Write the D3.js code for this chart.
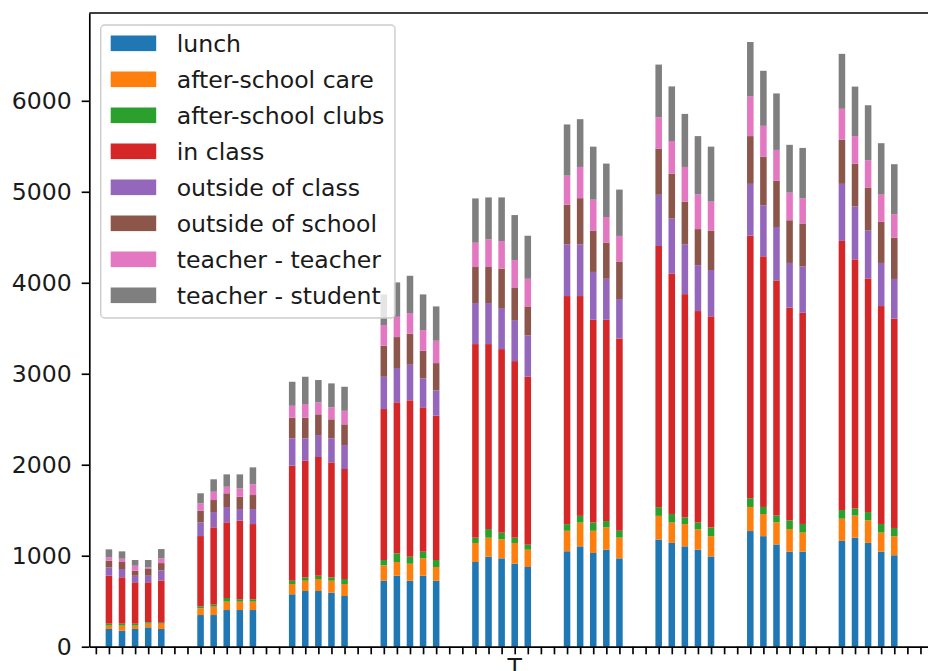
<!DOCTYPE html>
<html>
<head>
<meta charset="utf-8">
<script src="https://cdn.jsdelivr.net/npm/d3@7"></script>
<style>
  html, body { margin: 0; padding: 0; overflow: hidden; background: #fff; }
  svg { display: block; font-family: "DejaVu Sans", sans-serif; }
</style>
</head>
<body>
<svg id="chart" width="928" height="671"></svg>
<script>
// ---- data ----
const seriesNames = ["lunch", "after-school care", "after-school clubs", "in class",
  "outside of class", "outside of school", "teacher - teacher", "teacher - student"];

const lunch = [195,176,195,213,195, 348,348,403,403,403, 576,612,612,594,557,
  725,780,725,780,725, 931,989,971,912,876, 1049,1103,1030,1066,971,
  1178,1141,1103,1066,992, 1271,1215,1124,1045,1045, 1163,1198,1141,1045,1005];
const afterSchoolCare = [36,55,36,40,58, 74,92,92,92,92, 113,113,132,131,132,
  169,151,187,191,151, 209,209,209,228,190, 225,261,244,245,228,
  260,223,244,224,223, 265,243,243,248,209, 244,243,248,209,209];
const afterSchoolClubs = [22,22,22,15,10, 22,22,40,26,26, 36,37,36,37,55,
  59,95,77,73,77, 58,95,73,58,55, 73,74,90,70,75,
  96,95,75,74,96, 96,78,74,96,95, 95,79,91,95,91];
const inClass = [527,510,455,440,465, 772,850,832,864,827, 1264,1282,1305,1264,1209,
  1659,1660,1719,1587,1586, 2128,2033,2018,1941,1846, 2507,2416,2229,2212,2113,
  2870,2643,2453,2325,2320, 2886,2755,2585,2337,2321, 2958,2737,2568,2395,2302];
const outsideOfClass = [92,91,72,72,110, 151,168,168,128,165, 301,246,241,264,263,
  355,377,391,318,278, 451,451,451,451,455, 567,567,526,451,434,
  563,604,546,504,509, 569,561,587,492,508, 627,582,526,474,435];
const outsideOfSchool = [73,77,55,74,81, 128,132,151,135,154, 227,227,228,209,228,
  341,340,341,304,300, 396,396,433,359,318, 438,509,455,398,413,
  509,492,471,397,434, 525,535,508,469,474, 487,470,473,451,452];
const teacherTeacher = [37,36,55,18,51, 81,91,72,92,118, 131,150,132,132,149,
  227,223,227,227,246, 267,304,303,300,304, 319,343,339,281,281,
  343,360,381,381,318, 435,338,339,304,278, 338,303,300,300,260];
const teacherStudent = [88,81,63,81,103, 110,137,136,154,186, 264,300,245,263,264,
  337,378,410,392,377, 487,461,480,495,473, 562,525,583,587,509,
  579,600,583,641,604, 599,605,621,525,552, 604,544,604,565,549];

const yTicks = [0, 1000, 2000, 3000, 4000, 5000, 6000];
const xLabel = "T";

const seriesValues = [lunch, afterSchoolCare, afterSchoolClubs, inClass,
  outsideOfClass, outsideOfSchool, teacherTeacher, teacherStudent];
const colors = ["#1f77b4", "#ff7f0e", "#2ca02c", "#d62728",
  "#9467bd", "#8c564b", "#e377c2", "#7f7f7f"];

(function () {
// ---- layout ----
const mLeft = 89.3, mRight = 940.1, mTop = 13, mBottom = 646.7;
const fontSize = 23.6, tickLen = 7.6, lw = 1.67;
const barsPerGroup = 5, slotsPerGroup = 7, nSlots = 65;

const svg = d3.select("#chart");

const rows = lunch.map((_, i) => {
  const r = { slot: 1 + slotsPerGroup * Math.floor(i / barsPerGroup) + (i % barsPerGroup) };
  seriesNames.forEach((s, k) => r[s] = seriesValues[k][i]);
  return r;
});
const stacked = d3.stack().keys(seriesNames)(rows);

const x = d3.scaleLinear().domain([-0.5, nSlots - 0.5]).range([mLeft, mRight]);
const y = d3.scaleLinear().domain([0, 6965]).range([mBottom, mTop]);
const barW = x(0.5) - x(0);

svg.append("g").selectAll("g").data(stacked).join("g")
  .attr("fill", (d, i) => colors[i])
  .selectAll("rect").data(d => d).join("rect")
  .attr("x", d => x(d.data.slot) - barW / 2)
  .attr("width", barW)
  .attr("y", d => y(d[1]))
  .attr("height", d => y(d[0]) - y(d[1]));

const yAxis = d3.axisLeft(y).tickValues(yTicks).tickFormat(d3.format("d"))
  .tickSize(tickLen).tickPadding(10).tickSizeOuter(0);
const gy = svg.append("g").attr("transform", `translate(${mLeft},0)`).call(yAxis);
const xAxis = d3.axisBottom(x).tickValues(d3.range(nSlots)).tickFormat("")
  .tickSize(tickLen).tickSizeOuter(0);
const gx = svg.append("g").attr("transform", `translate(0,${mBottom})`).call(xAxis);

[gx, gy].forEach(g => {
  g.selectAll("path.domain").attr("stroke", "#000").attr("stroke-width", lw);
  g.selectAll(".tick line").attr("stroke", "#000").attr("stroke-width", lw);
  g.selectAll(".tick text").attr("fill", "#1a1a1a")
    .style("font-size", fontSize + "px").style("font-family", "DejaVu Sans");
});
svg.append("line").attr("x1", mLeft).attr("x2", mRight).attr("y1", mTop).attr("y2", mTop)
  .attr("stroke", "#000").attr("stroke-width", lw);
svg.append("line").attr("x1", mRight).attr("x2", mRight).attr("y1", mTop).attr("y2", mBottom)
  .attr("stroke", "#000").attr("stroke-width", lw);

svg.append("text").attr("x", (mLeft + mRight) / 2).attr("y", 674.5)
  .attr("text-anchor", "middle").style("font-size", fontSize + "px").attr("fill", "#1a1a1a")
  .text(xLabel);

const lg = svg.append("g");
lg.append("rect").attr("x", 100.7).attr("y", 25).attr("width", 294.3).attr("height", 293)
  .attr("rx", 4).attr("fill", "#fff").attr("fill-opacity", 0.8)
  .attr("stroke", "#cccccc").attr("stroke-width", 1.4);
const item = lg.selectAll("g.item").data(seriesNames).join("g")
  .attr("transform", (d, i) => `translate(0,${43.3 + i * 36})`);
item.append("rect").attr("x", 110.7).attr("y", -7.8).attr("width", 45.5).attr("height", 15.6)
  .attr("fill", (d, i) => colors[i]);
item.append("text").attr("x", 176.7).attr("y", 0).attr("dy", "0.36em")
  .style("font-size", fontSize + "px").attr("fill", "#1a1a1a").text(d => d);
})();
</script>
</body>
</html>
